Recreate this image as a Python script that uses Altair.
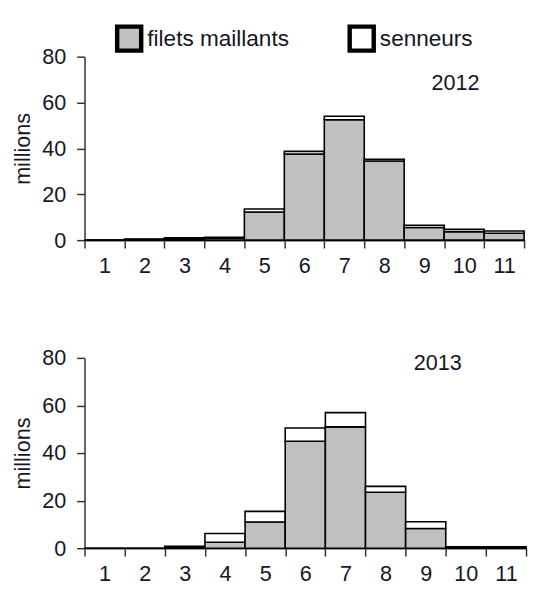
import altair as alt
import pandas as pd

bins = [str(i) for i in range(1, 12)]
series = ["filets maillants", "senneurs"]
filets_2012 = [0.0, 0.3, 0.6, 0.8, 12.3, 37.5, 52.5, 34.5, 5.5, 3.7, 3.0]
senneurs_2012 = [0.0, 0.2, 0.4, 0.4, 1.3, 1.2, 1.5, 0.8, 1.0, 1.0, 1.0]
filets_2013 = [0.0, 0.0, 0.5, 2.5, 11.0, 45.0, 51.0, 23.5, 8.3, 0.3, 0.3]
senneurs_2013 = [0.0, 0.0, 0.3, 3.7, 4.5, 5.5, 6.0, 2.5, 2.8, 0.3, 0.3]
y_ticks = [0, 20, 40, 60, 80]

FONT = "Liberation Sans"
TXT = "#161626"
FS = 22


def frame(f, s):
    rows = []
    for b, a, c in zip(bins, f, s):
        rows.append({"bin": b, "engin": series[0], "ord": 0, "v": a})
        rows.append({"bin": b, "engin": series[1], "ord": 1, "v": c})
    return pd.DataFrame(rows)


def panel(df, year, w, h, tx, ty, show_legend):
    color = alt.Color(
        "engin:N",
        scale=alt.Scale(domain=series, range=["#c0c0c0", "#ffffff"]),
        legend=alt.Legend(
            title=None,
            orient="none",
            legendX=31,
            legendY=-33,
            direction="horizontal",
            symbolType="square",
            symbolSize=600,
            symbolStrokeWidth=4.5,
            symbolStrokeColor="black",
            labelFontSize=23,
            labelFont=FONT,
            labelColor=TXT,
            labelOffset=4,
            columnPadding=52,
        ) if show_legend else None,
    )
    bars = alt.Chart(df).mark_bar(stroke="black", strokeWidth=1.6).encode(
        x=alt.X(
            "bin:O",
            sort=bins,
            scale=alt.Scale(paddingInner=0, paddingOuter=0),
            axis=alt.Axis(
                title=None,
                labelAngle=0,
                tickBand="extent",
                labelFontSize=FS,
                labelFont=FONT,
                labelColor=TXT,
                labelPadding=8,
                tickSize=8,
                tickColor="#333",
                domainColor="#333",
                domainWidth=1.5,
                tickWidth=1.5,
            ),
        ),
        y=alt.Y(
            "v:Q",
            stack="zero",
            scale=alt.Scale(domain=[0, 80]),
            axis=alt.Axis(
                title="millions",
                values=y_ticks,
                titleFontSize=FS,
                titleFont=FONT,
                titleFontWeight="normal",
                titleColor=TXT,
                titlePadding=8,
                labelFontSize=FS,
                labelFont=FONT,
                labelColor=TXT,
                labelPadding=11,
                tickSize=8,
                tickColor="#333",
                domainColor="#333",
                domainWidth=1.5,
                tickWidth=1.5,
                grid=False,
            ),
        ),
        color=color,
        order=alt.Order("ord:Q"),
    ).properties(width=w, height=h)
    label = alt.Chart(pd.DataFrame({"t": [year]})).mark_text(
        font=FONT, fontSize=FS, color=TXT
    ).encode(text="t:N", x=alt.value(tx), y=alt.value(ty))
    return alt.layer(bars, label)


top = panel(frame(filets_2012, senneurs_2012), "2012", 448, 187, 378, 27, True)
bottom = panel(frame(filets_2013, senneurs_2013), "2013", 450, 194, 360, 5, False)

chart = alt.vconcat(top, bottom, spacing=72).properties(
    padding={"left": 3, "top": 11, "right": 2, "bottom": 2}
).configure_view(stroke=None).configure_concat(spacing=72)

chart.save("out.html", embed_options={"renderer": "svg", "actions": False})
